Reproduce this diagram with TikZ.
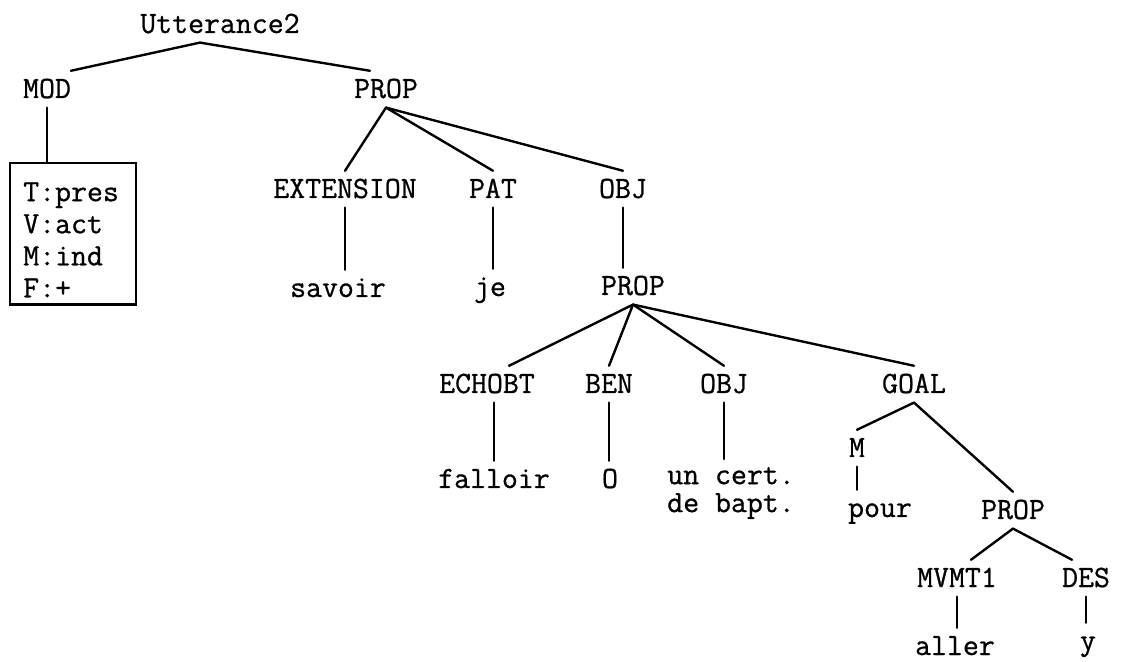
\documentclass[tikz,border=0pt]{standalone}
\usepackage{fontspec}
\setmonofont{Latin Modern Mono}[UprightFeatures={FakeBold=0.8}]
\usetikzlibrary{calc}
\tikzset{
  lbl/.style={font=\ttfamily\fontsize{22}{22}\selectfont,inner sep=0pt,outer xsep=0pt,
    outer ysep=0.2cm,text height=0.48cm,text depth=0.04cm,anchor=base},
  twoline/.style={font=\ttfamily\fontsize{22}{19.9}\selectfont,inner sep=0pt,
    outer ysep=0.2cm,align=left,anchor=north},
  feat/.style={font=\ttfamily\fontsize{22}{22.8}\selectfont,inner sep=0pt,align=left,anchor=north west},
  branch/.style={line width=1.7pt,line cap=round}
}

\begin{document}
\begin{tikzpicture}[x=0.025cm,y=-0.025cm]
\useasboundingbox (0,0) rectangle (1121,662);

\node[lbl] (utt) at (220,33) {Utterance2};
\node[lbl] (mod) at (47,98) {MOD};
\node[lbl] (prop) at (386,98) {PROP};

\node[feat] (featlist) at (23,182) {T:pres\\V:act\\M:ind\\F:+};
\coordinate (boxnw) at ($(featlist.north west)+(-13,-19)$);
\coordinate (boxse) at ($(featlist.south east)+(17,7)$);

\node[lbl] (ext) at (345,198) {EXTENSION};
\node[lbl] (pat) at (493,198) {PAT};
\node[lbl] (obj) at (623,198) {OBJ};
\node[lbl] (savoir) at (338,297) {savoir};
\node[lbl] (je) at (490,296) {je};
\node[lbl] (propb) at (633,295) {PROP};

\node[lbl] (echobt) at (487,393) {ECHOBT};
\node[lbl] (ben) at (609,393) {BEN};
\node[lbl] (objb) at (724,393) {OBJ};
\node[lbl] (goal) at (914,393) {GOAL};
\node[lbl] (falloir) at (494,488) {falloir};
\node[lbl] (zero) at (610,488) {O};
\node[twoline] (cert) at (731,459) {un cert.\\de bapt.};

\node[lbl] (m) at (857,457) {M};
\node[lbl] (pour) at (880,517) {pour};
\node[lbl] (propc) at (1013,519) {PROP};
\node[lbl] (mvmt) at (957,587) {MVMT1};
\node[lbl] (des) at (1086,587) {DES};
\node[lbl] (aller) at (955,655) {aller};
\node[lbl] (yy) at (1088,650) {y};

% branches
\draw[branch] ([xshift=-0.5cm]utt.south) -- (mod.north east);
\draw[branch] ([xshift=-0.5cm]utt.south) -- ([xshift=-0.4cm]prop.north);
\draw[branch] (boxnw) rectangle (boxse);
\draw[branch] (mod.south) -- (mod.south |- boxnw);
\draw[branch] (propb.south) -- ([xshift=0.55cm]echobt.north);
\draw[branch] (propc.south) -- ([xshift=0.35cm]mvmt.north);
\draw[branch] (propc.south) -- ([xshift=-0.35cm]des.north);
\foreach \a/\b in {prop/ext,prop/pat,prop/obj,propb/ben,propb/objb,propb/goal,goal/m,goal/propc}
  \draw[branch] (\a.south) -- (\b.north);
\foreach \a/\b in {ext/savoir,pat/je,obj/propb,ben/zero,objb/cert,m/pour,mvmt/aller,des/yy}
  \draw[branch] (\a.south) -- (\a.south |- \b.north);
\draw[branch] (falloir.north |- echobt.south) -- (falloir.north);

\end{tikzpicture}
\end{document}
